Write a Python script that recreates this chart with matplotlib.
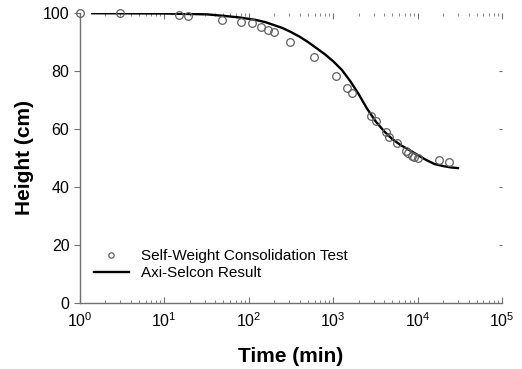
import numpy as np
import matplotlib
matplotlib.use("Agg")
import matplotlib.pyplot as plt
from matplotlib.ticker import LogLocator, NullFormatter

plt.rcParams['font.family'] = ['Liberation Sans', 'DejaVu Sans']
plt.rcParams['mathtext.fontset'] = 'custom'
plt.rcParams['mathtext.rm'] = 'Liberation Sans'

# self-weight consolidation test: time (min), height (cm)
test_time = [1, 3, 15, 19, 48, 81, 110, 138, 169, 199, 309, 591, 1070, 1445, 1660,
             2820, 3220, 4240, 4600, 5720, 7270, 7730, 8590, 9100, 10000, 17900, 23600]
test_height = [100, 99.8, 99.3, 99.0, 97.6, 96.9, 96.4, 95.2, 94.1, 93.4, 90.0, 84.8, 78.3, 74.1, 72.4,
               64.5, 62.8, 59.0, 57.2, 55.2, 52.4, 51.7, 50.7, 50.3, 50.0, 49.3, 48.6]

# Axi-Selcon model result
model_time = [1.4, 10, 32, 50, 79, 120, 158, 250, 316, 400, 500, 630, 800, 1000, 1260,
              1580, 2000, 2500, 3160, 4000, 5000, 6300, 7900, 10000, 12600, 15800,
              20000, 25100, 30000]
model_height = [99.9, 99.8, 99.5, 99.0, 98.4, 97.6, 96.8, 94.8, 93.4, 91.8, 90.0, 87.9,
                85.7, 83.3, 80.4, 76.6, 72.0, 67.1, 62.7, 59.2, 56.5, 54.4, 52.8, 51.0,
                49.3, 47.9, 47.2, 46.7, 46.5]

fig = plt.figure(figsize=(5.22, 3.69), dpi=100)
ax = fig.add_axes([0.153, 0.179, 0.809, 0.786])

ax.plot(test_time, test_height, 'o', ms=5.5, mfc='none', mec='#606060', mew=0.9,
        clip_on=False, label='Self-Weight Consolidation Test', zorder=3)
ax.plot(model_time, model_height, '-', color='black', lw=1.7, label='Axi-Selcon Result')

ax.set_xscale('log')
ax.set_xlim(1, 1e5)
ax.set_ylim(0, 100)
ax.set_yticks([0, 20, 40, 60, 80, 100])
ax.xaxis.set_major_locator(LogLocator(base=10, numticks=10))
ax.xaxis.set_minor_locator(LogLocator(base=10, subs=np.arange(2, 10), numticks=10))
ax.xaxis.set_minor_formatter(NullFormatter())

for s in ['top', 'right']:
    ax.spines[s].set_visible(False)
for s in ['left', 'bottom']:
    ax.spines[s].set_color('#707070')
    ax.spines[s].set_linewidth(1.0)

ax.tick_params(axis='x', which='both', direction='in', top=True, color='#707070',
               labelsize=11.5, pad=6)
ax.tick_params(axis='x', which='major', length=4)
ax.tick_params(axis='x', which='minor', length=2)
ax.tick_params(axis='y', which='major', direction='out', length=4, color='#707070',
               labelsize=11.5, right=False)
ax.tick_params(axis='y', which='minor', left=False)

# small marks on the right edge
axr = ax.twinx()
axr.set_ylim(0, 100)
axr.set_yticks([20, 40, 60, 80])
axr.tick_params(axis='y', direction='in', length=2, color='#707070', labelright=False)
for s in axr.spines.values():
    s.set_visible(False)

ax.set_xlabel('Time (min)', fontsize=15, fontweight='bold', labelpad=12)
ax.set_ylabel('Height (cm)', fontsize=15, fontweight='bold', labelpad=6)

ax.legend(loc='lower left', bbox_to_anchor=(0.0, 0.03), frameon=False, fontsize=11,
          markerscale=0.7, handlelength=2.3, handletextpad=0.8, labelspacing=0.2)

fig.savefig('out.png', dpi=100)
